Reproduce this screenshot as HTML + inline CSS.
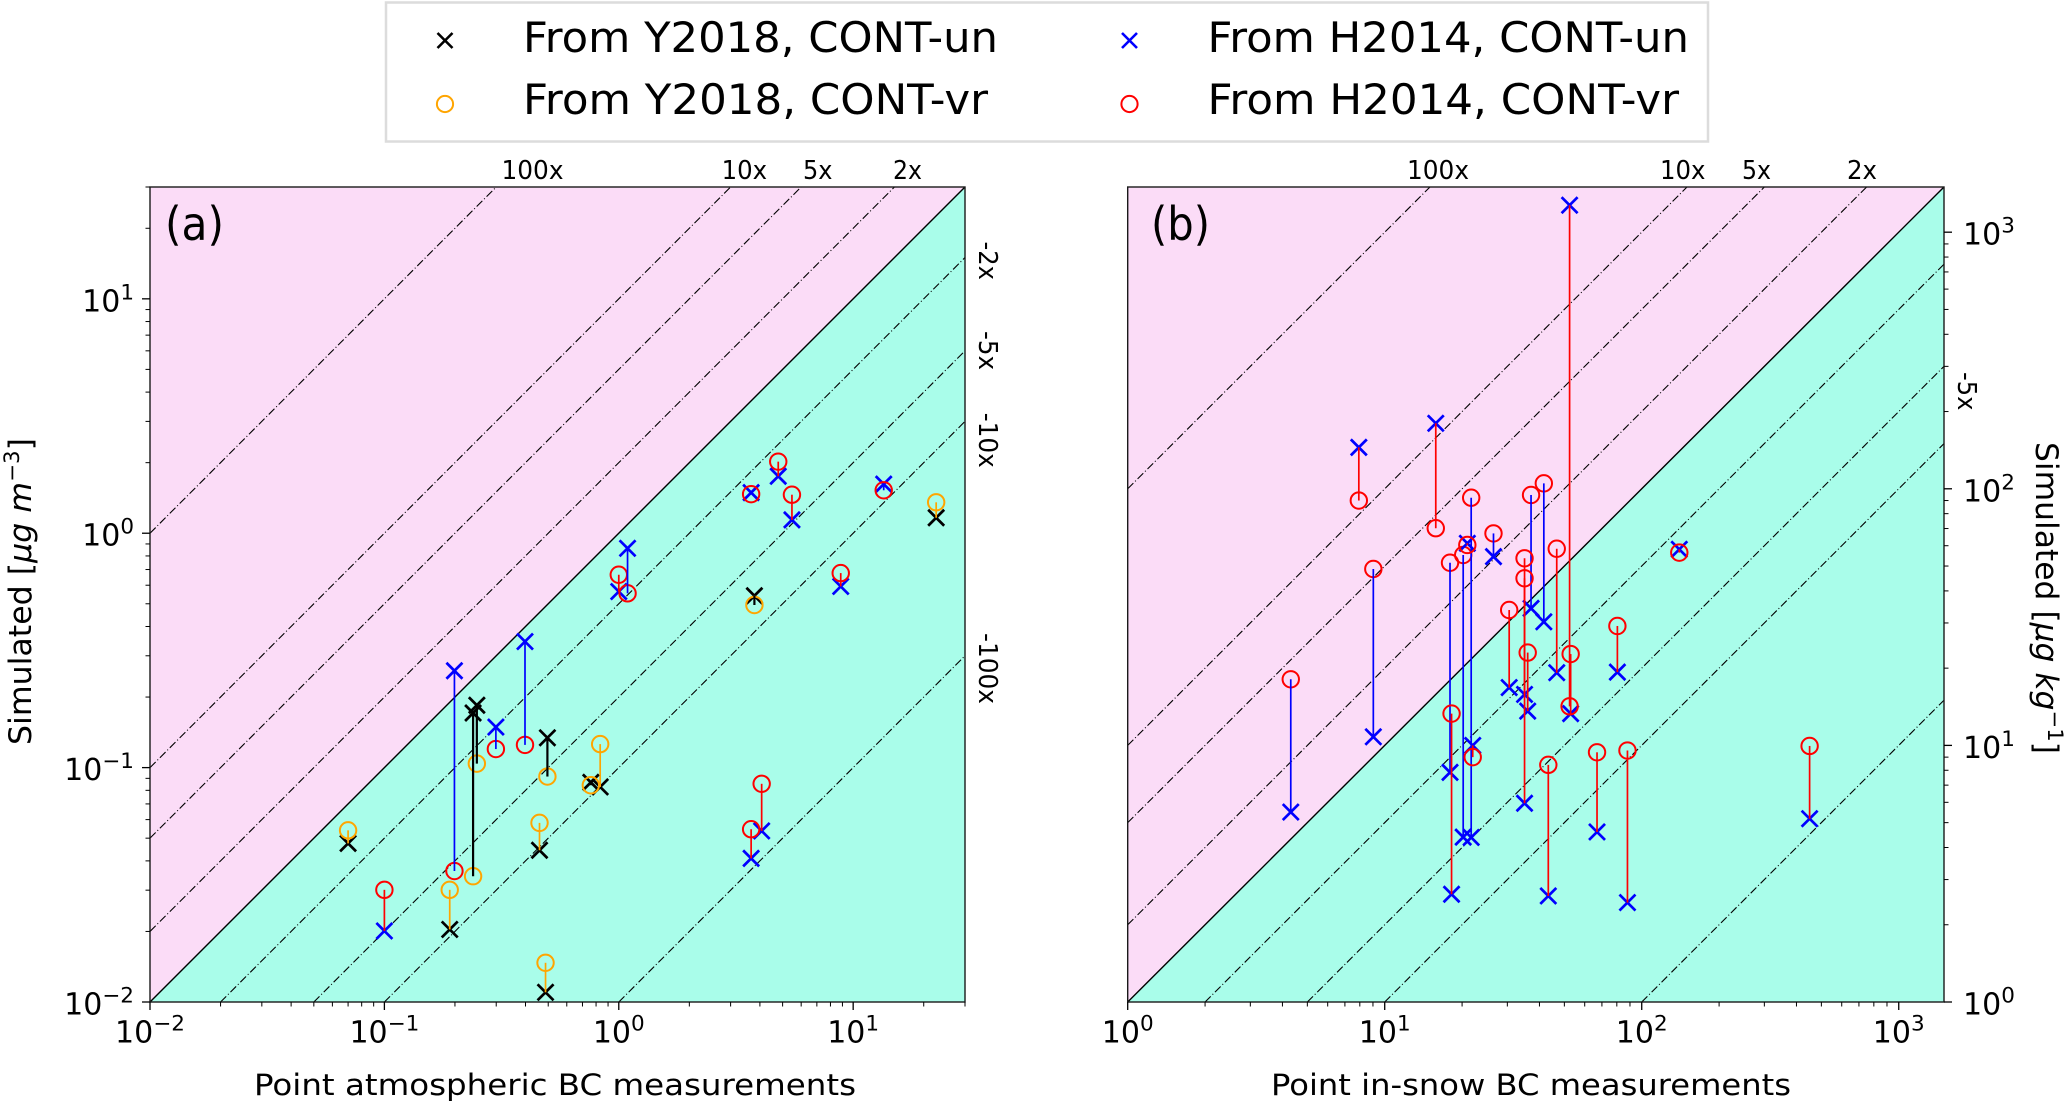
<!DOCTYPE html>
<html lang="en">
<head>
<meta charset="utf-8">
<title>Simulated vs measured BC</title>
<style>
html,body{margin:0;padding:0;background:#fff;width:2067px;height:1103px;overflow:hidden}
svg{display:block}
text{font-family:"DejaVu Sans","Liberation Sans",sans-serif;fill:#000}
</style>
</head>
<body>
<svg id="chart" xmlns="http://www.w3.org/2000/svg" width="2067" height="1103" viewBox="0 0 2067 1103">
  <defs>
    <clipPath id="clip-a"><rect x="150" y="187" width="815" height="815"/></clipPath>
    <clipPath id="clip-b"><rect x="1127.7" y="187" width="816.3" height="815"/></clipPath>
  </defs>
  <g id="panel-a"></g>
  <g id="panel-b"></g>

  <g>
    <rect x="386" y="2.5" width="1322" height="139" fill="#fff" stroke="#dcdcdc" stroke-width="2.5"/>
    <g>
      <path d="M437.5 33L452.5 48M452.5 33L437.5 48" stroke="#000" stroke-width="2.6" fill="none"/>
      <text x="523" y="52" font-size="42" textLength="475" lengthAdjust="spacingAndGlyphs">From Y2018, CONT-un</text>
    </g>
    <g>
      <circle cx="445" cy="104" r="8.1" fill="none" stroke="#ffa500" stroke-width="2"/>
      <text x="523" y="114" font-size="42" textLength="465" lengthAdjust="spacingAndGlyphs">From Y2018, CONT-vr</text>
    </g>
    <g>
      <path d="M1122 33L1137 48M1137 33L1122 48" stroke="#0000ff" stroke-width="2.6" fill="none"/>
      <text x="1207.5" y="52" font-size="42" textLength="481.5" lengthAdjust="spacingAndGlyphs">From H2014, CONT-un</text>
    </g>
    <g>
      <circle cx="1129.5" cy="104" r="8.1" fill="none" stroke="#ff0000" stroke-width="2"/>
      <text x="1207.5" y="114" font-size="42" textLength="471.5" lengthAdjust="spacingAndGlyphs">From H2014, CONT-vr</text>
    </g>
  </g>

  <g font-size="25.5">
    <text x="501.5" y="179" textLength="62" lengthAdjust="spacingAndGlyphs">100x</text>
    <text x="721.6" y="179" textLength="45.5" lengthAdjust="spacingAndGlyphs">10x</text>
    <text x="803" y="179" textLength="29.5" lengthAdjust="spacingAndGlyphs">5x</text>
    <text x="893" y="179" textLength="29" lengthAdjust="spacingAndGlyphs">2x</text>
    <text transform="translate(979 241.5) rotate(90)" textLength="38.5" lengthAdjust="spacingAndGlyphs">-2x</text>
    <text transform="translate(979 331) rotate(90)" textLength="39" lengthAdjust="spacingAndGlyphs">-5x</text>
    <text transform="translate(979 412.7) rotate(90)" textLength="55" lengthAdjust="spacingAndGlyphs">-10x</text>
    <text transform="translate(979 633) rotate(90)" textLength="71" lengthAdjust="spacingAndGlyphs">-100x</text>
  </g>
  <g font-size="25.5">
    <text x="1407" y="179" textLength="62" lengthAdjust="spacingAndGlyphs">100x</text>
    <text x="1660" y="179" textLength="45.5" lengthAdjust="spacingAndGlyphs">10x</text>
    <text x="1742" y="179" textLength="29" lengthAdjust="spacingAndGlyphs">5x</text>
    <text x="1847" y="179" textLength="30" lengthAdjust="spacingAndGlyphs">2x</text>
    <text transform="translate(1958 372) rotate(90)" textLength="38.5" lengthAdjust="spacingAndGlyphs">-5x</text>
  </g>

  <text x="165" y="240" font-size="46" textLength="59" lengthAdjust="spacingAndGlyphs">(a)</text>
  <text x="1151" y="240" font-size="46" textLength="59" lengthAdjust="spacingAndGlyphs">(b)</text>

  <text x="254" y="1095" font-size="29.5" textLength="602" lengthAdjust="spacingAndGlyphs">Point atmospheric BC  measurements</text>
  <text x="1271" y="1095" font-size="29.5" textLength="520" lengthAdjust="spacingAndGlyphs">Point in-snow BC measurements</text>
  <text transform="translate(31 745) rotate(-90)" font-size="31" textLength="307" lengthAdjust="spacingAndGlyphs">Simulated [<tspan font-style="italic">μg m</tspan><tspan dy="-12" font-size="21">−3</tspan><tspan dy="12">]</tspan></text>
  <text transform="translate(2036 442) rotate(90)" font-size="31" textLength="312" lengthAdjust="spacingAndGlyphs">Simulated [<tspan font-style="italic">μg kg</tspan><tspan dy="-12" font-size="21">−1</tspan><tspan dy="12">]</tspan></text>
</svg>

<script>
// Reference-line ratios (simulated = ratio x measured)
const ratioLines = [100, 10, 5, 2, 1, 0.5, 0.2, 0.1, 0.01];

// Axis limits, decades
const aLimits = [0.01, 30];
const bLimits = [1, 1500];
const aMajorExponents = [-2, -1, 0, 1];
const bMajorExponents = [0, 1, 2, 3];
const aTickLabels = ["−2", "−1", "0", "1"];
const bTickLabels = ["0", "1", "2", "3"];

// Panel (a) from Y2018
const aY2018X  = [0.07, 0.19, 0.239, 0.248, 0.459, 0.487, 0.496, 0.76, 0.833, 3.79, 22.6];
const aY2018Un = [0.0475, 0.0204, 0.171, 0.1845, 0.0444, 0.011, 0.134, 0.0865, 0.0827, 0.541, 1.164];
const aY2018Vr = [0.054, 0.0301, 0.0344, 0.104, 0.0581, 0.0147, 0.0916, 0.0841, 0.126, 0.494, 1.355];

// Panel (a) from H2014
const aH2014X  = [0.1, 0.199, 0.299, 0.398, 1.0, 1.09, 3.67, 4.07, 3.67, 4.79, 5.48, 8.85, 13.5];
const aH2014Un = [0.0201, 0.259, 0.149, 0.345, 0.564, 0.862, 0.041, 0.0537, 1.49, 1.75, 1.14, 0.593, 1.62];
const aH2014Vr = [0.0301, 0.0362, 0.12, 0.125, 0.665, 0.554, 0.0546, 0.0853, 1.468, 2.02, 1.46, 0.676, 1.525];

// Panel (b) H2014 stations with a blue link
const bBlueLinkX  = [4.31, 9.03, 17.95, 20.2, 21.7, 26.5, 37.1, 41.6];
const bBlueLinkUn = [5.5, 10.8, 7.85, 4.39, 4.38, 54.4, 34.2, 30.3];
const bBlueLinkVr = [18.1, 48.7, 51.5, 55.2, 92.3, 67, 94.6, 105];

// Panel (b) H2014 stations with a red link
const bRedLinkX  = [7.93, 15.8, 18.2, 20.96, 22, 30.5, 35, 35, 36, 43.3, 46.7, 52.4, 52.9, 67, 80.4, 88, 140, 450];
const bRedLinkUn = [145, 180, 2.63, 61.3, 10, 16.8, 5.95, 15.8, 13.6, 2.59, 19.2, 1274, 13.3, 4.6, 19.3, 2.44, 58.1, 5.18];
const bRedLinkVr = [90, 70.2, 13.3, 60.4, 9, 33.7, 53.6, 44.8, 23, 8.4, 58.4, 14.2, 22.7, 9.4, 29.2, 9.55, 56.4, 9.95];

const SVGNS = 'http://www.w3.org/2000/svg';

function make(tag, attrs, parent) {
  const node = document.createElementNS(SVGNS, tag);
  for (const k in attrs) node.setAttribute(k, attrs[k]);
  parent.appendChild(node);
  return node;
}

function logScale(lims, p0, p1) {
  const a = Math.log10(lims[0]);
  const b = Math.log10(lims[1]);
  return v => p0 + (Math.log10(v) - a) / (b - a) * (p1 - p0);
}

function drawPanel(cfg) {
  const root = document.getElementById(cfg.rootId);
  const sx = logScale(cfg.lims, cfg.left, cfg.right);
  const sy = logScale(cfg.lims, cfg.bottom, cfg.top);
  const lo = cfg.lims[0], hi = cfg.lims[1];

  const upper = make('polygon', {
    points: [sx(lo), sy(lo), sx(hi), sy(hi), sx(lo), sy(hi)].join(' '),
    fill: '#fbdcf7'
  }, root);
  
  

  const lower = make('polygon', {
    points: [sx(lo), sy(lo), sx(hi), sy(hi), sx(hi), sy(lo)].join(' '),
    fill: '#a9fdea'
  }, root);
  
  

  const lines = make('g', {'clip-path': 'url(#' + cfg.clipId + ')'}, root);
  
  
  ratioLines.forEach(k => {
    const one = k === 1;
    const xStart = Math.max(lo, lo / k);
    const xEnd = Math.min(hi, hi / k);
    const ln = make('line', {
      x1: sx(xStart), y1: sy(xStart * k), x2: sx(xEnd), y2: sy(xEnd * k),
      stroke: '#000', 'stroke-width': one ? 1.4 : 1.1,
      'stroke-dasharray': one ? 'none' : '8 2.5 1 2.5'
    }, lines);
    
    
  });

  const marks = make('g', {'clip-path': 'url(#' + cfg.clipId + ')'}, root);
  
  
  cfg.series.forEach(s => {
    s.x.forEach((xv, i) => {
      const px = sx(xv), py = sy(s.un[i]), d = 8;
      const cross = make('path', {
        d: 'M' + (px - d) + ' ' + (py - d) + 'L' + (px + d) + ' ' + (py + d) +
           'M' + (px + d) + ' ' + (py - d) + 'L' + (px - d) + ' ' + (py + d),
        stroke: s.unColor, 'stroke-width': 2.7, fill: 'none'
      }, marks);
      
      
    });
    s.x.forEach((xv, i) => {
      const circ = make('circle', {
        cx: sx(xv), cy: sy(s.vr[i]), r: 8.2,
        fill: 'none', stroke: s.vrColor, 'stroke-width': 2
      }, marks);
      
      
    });
    s.x.forEach((xv, i) => {
      const col = s.linkColor(s.un[i], s.vr[i]);
      const link = make('line', {
        x1: sx(xv), y1: sy(s.un[i]), x2: sx(xv), y2: sy(s.vr[i]),
        stroke: col, 'stroke-width': col === '#000' ? 2.2 : 1.7
      }, marks);
      
      
    });
  });

  const frame = make('rect', {
    x: cfg.left, y: cfg.top, width: cfg.right - cfg.left, height: cfg.bottom - cfg.top,
    fill: 'none', stroke: '#1a1a1a', 'stroke-width': 1.4
  }, root);
  
  

  const axes = make('g', {}, root);
  
  

  cfg.exponents.forEach((e, idx) => {
    const major = Math.pow(10, e);
    for (let m = 1; m <= 9; m++) {
      const v = major * m;
      if (v > hi * 1.0001) break;
      const len = m === 1 ? 8 : 4.5;
      const w = m === 1 ? 1.3 : 1;
      const xt = make('line', {x1: sx(v), x2: sx(v), y1: cfg.bottom, y2: cfg.bottom + len, stroke: '#000', 'stroke-width': w}, axes);
      
      
      const ySide = cfg.yRight ? cfg.right : cfg.left;
      const dir = cfg.yRight ? 1 : -1;
      const yt = make('line', {x1: ySide, x2: ySide + dir * len, y1: sy(v), y2: sy(v), stroke: '#000', 'stroke-width': w}, axes);
      
      
    }
    const xl = make('text', {x: sx(major), y: cfg.bottom + 40.7, 'font-size': 30, 'text-anchor': 'middle'}, axes);
    
    
    xl.appendChild(document.createTextNode('10'));
    const xs = make('tspan', {dy: -12, 'font-size': 21.5}, xl);
    xs.textContent = cfg.labels[idx];

    const yl = make('text', {
      x: cfg.yRight ? cfg.right + 19 : cfg.left - 16,
      y: sy(major) + 12.5, 'font-size': 30,
      'text-anchor': cfg.yRight ? 'start' : 'end'
    }, axes);
    
    
    yl.appendChild(document.createTextNode('10'));
    const ys = make('tspan', {dy: -12, 'font-size': 21.5}, yl);
    ys.textContent = cfg.labels[idx];
  });
}

drawPanel({
  rootId: 'panel-a', clipId: 'clip-a',
  left: 150, right: 965, top: 187, bottom: 1002,
  lims: aLimits, exponents: aMajorExponents, labels: aTickLabels, yRight: false,
  series: [
    {x: aY2018X, un: aY2018Un, vr: aY2018Vr, unColor: '#000', vrColor: '#ffa500',
     linkColor: (u, v) => u > v ? '#000' : '#ffa500'},
    {x: aH2014X, un: aH2014Un, vr: aH2014Vr, unColor: '#0000ff', vrColor: '#ff0000',
     linkColor: (u, v) => u > v ? '#0000ff' : '#ff0000'}
  ]
});

drawPanel({
  rootId: 'panel-b', clipId: 'clip-b',
  left: 1127.7, right: 1944, top: 187, bottom: 1002,
  lims: bLimits, exponents: bMajorExponents, labels: bTickLabels, yRight: true,
  series: [
    {x: bBlueLinkX, un: bBlueLinkUn, vr: bBlueLinkVr, unColor: '#0000ff', vrColor: '#ff0000',
     linkColor: () => '#0000ff'},
    {x: bRedLinkX, un: bRedLinkUn, vr: bRedLinkVr, unColor: '#0000ff', vrColor: '#ff0000',
     linkColor: () => '#ff0000'}
  ]
});
</script>
</body>
</html>
